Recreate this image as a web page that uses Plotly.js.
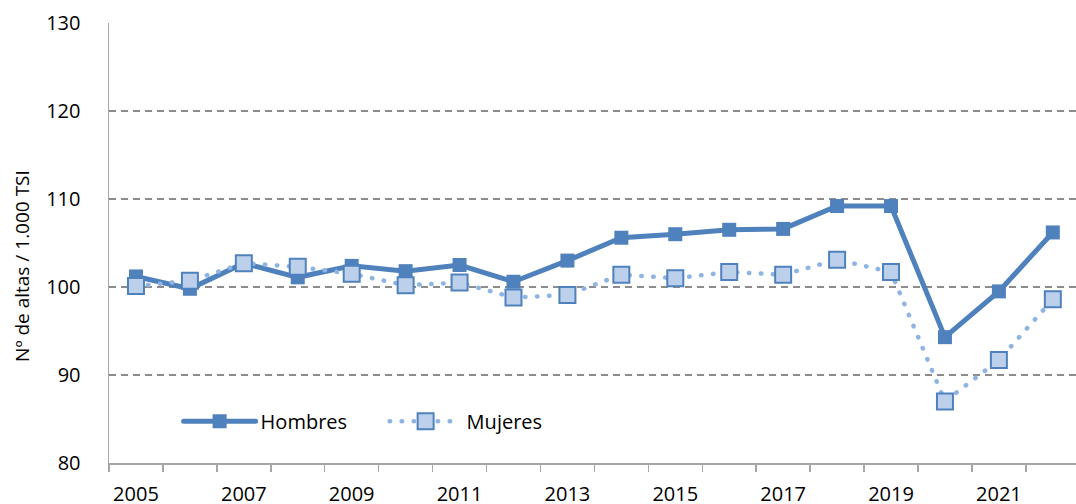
<!DOCTYPE html>
<html>
<head>
<meta charset="utf-8">
<script src="https://cdn.plot.ly/plotly-3.0.1.min.js"></script>
<style>
  html, body { margin: 0; padding: 0; overflow: hidden; background: #fff; }
  #chart { width: 1076px; height: 504px; }
  .scatterlayer .js-line, .legend .js-line { stroke-linecap: round; }
</style>
</head>
<body>
<div id="chart"></div>
<script>
const years = [2005, 2006, 2007, 2008, 2009, 2010, 2011, 2012, 2013, 2014, 2015, 2016, 2017, 2018, 2019, 2020, 2021, 2022];
const hombres = [101.2, 99.8, 102.7, 101.1, 102.4, 101.8, 102.5, 100.6, 103.0, 105.6, 106.0, 106.5, 106.6, 109.2, 109.2, 94.3, 99.5, 106.2];
const mujeres = [100.1, 100.7, 102.7, 102.3, 101.5, 100.2, 100.5, 98.8, 99.1, 101.4, 101.0, 101.7, 101.4, 103.1, 101.7, 87.0, 91.7, 98.6];
const xTickVals = [2005, 2007, 2009, 2011, 2013, 2015, 2017, 2019, 2021];
const xTickText = ['2005', '2007', '2009', '2011', '2013', '2015', '2017', '2019', '2021'];
const yTickVals = [80, 90, 100, 110, 120, 130];
const yTitle = 'Nº de altas / 1.000 TSI';

const blue = '#4F81BD';
const lightBlue = '#8DB4E2';

const traces = [
  {
    x: years, y: hombres, name: 'Hombres', type: 'scatter', mode: 'lines+markers',
    line: { color: blue, width: 5 },
    marker: { symbol: 'square', size: 14, color: blue, line: { width: 0 } }
  },
  {
    x: years, y: mujeres, name: 'Mujeres', type: 'scatter', mode: 'lines+markers',
    line: { color: lightBlue, width: 4.5, dash: '0.5px,11.5px' },
    marker: { symbol: 'square', size: 16, color: '#bcd0ec', line: { color: blue, width: 2 } }
  }
];

const layout = {
  width: 1076, height: 504,
  margin: { l: 109, r: 0, t: 23, b: 41 },
  paper_bgcolor: '#ffffff', plot_bgcolor: '#ffffff',
  font: { family: '"Open Sans", sans-serif', size: 20, color: '#000000' },
  showlegend: true,
  legend: {
    orientation: 'h', x: 0.072, y: 0.095, xanchor: 'left', yanchor: 'middle',
    bgcolor: 'rgba(0,0,0,0)', font: { size: 20, color: '#000' },
    itemwidth: 72, entrywidth: 119, entrywidthmode: 'pixels', tracegroupgap: 0
  },
  xaxis: {
    range: [2004.5, 2022.43],
    tickmode: 'array', tickvals: xTickVals, ticktext: xTickText,
    ticks: '', ticklabelstandoff: 12,
    showgrid: false, zeroline: false,
    showline: true, linecolor: '#a6a6a6', linewidth: 1.5,
    tickfont: { size: 20, color: '#000' },
    minor: { tickmode: 'linear', tick0: 2004.5, dtick: 1, ticks: 'outside', ticklen: 7, tickwidth: 1.5, tickcolor: '#a6a6a6', showgrid: false }
  },
  yaxis: {
    range: [80, 130],
    tickmode: 'array', tickvals: yTickVals,
    ticks: '', ticklabelstandoff: 23,
    showgrid: true, gridcolor: '#8c8c8c', gridwidth: 1.5, griddash: '7px,5px',
    zeroline: false,
    showline: true, linecolor: '#a6a6a6', linewidth: 1.5,
    tickfont: { size: 20, color: '#000' }
  },
  annotations: [
    {
      text: yTitle, xref: 'paper', yref: 'paper', x: 0, y: 0.448,
      xshift: -87, xanchor: 'center', yanchor: 'middle', textangle: -90,
      showarrow: false, font: { size: 19, color: '#000' }
    }
  ]
};

Plotly.newPlot('chart', traces, layout, { displayModeBar: false, staticPlot: true });
</script>
</body>
</html>
